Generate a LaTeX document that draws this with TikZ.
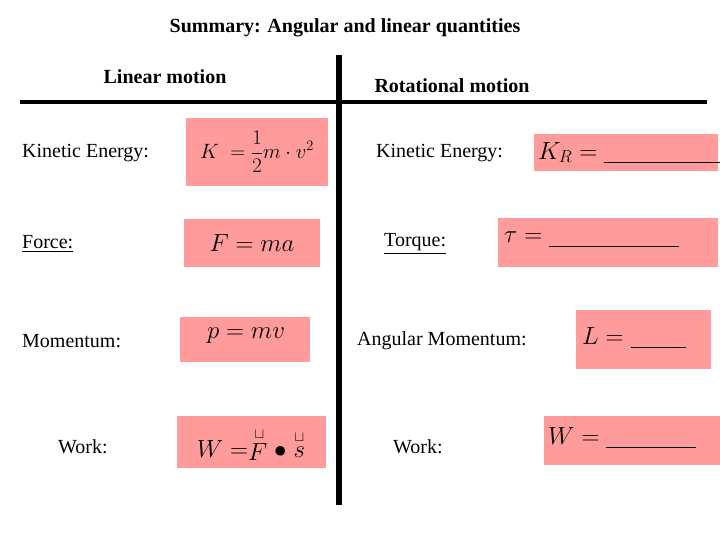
\documentclass[tikz,border=0pt]{standalone}
\usepackage{amsmath}
\usepackage{fontspec}
\setmainfont{Liberation Serif}
\begin{document}
\begin{tikzpicture}[x=1pt,y=-1pt,
  lab/.style={anchor=west,font=\fontsize{20}{22}\selectfont,inner sep=0},
  hd/.style={font=\bfseries\fontsize{20}{22}\selectfont},
  box/.style={fill=pink1,draw=none},
  fm/.style={font=\fontsize{30}{32}\selectfont,inner sep=0}]
\definecolor{pink1}{HTML}{FF9B9B}
\useasboundingbox (0,0) rectangle (720,540);
\node[hd] (t) at (345,28) {Summary: Angular and linear quantities};
\node[hd] (lm) at (165,77) {Linear motion};
\node[hd] (rm) at (452,86) {Rotational motion};
\draw[line width=4] (20,102) -- (707,102);
\draw[line width=6] (339,55) -- (339,505);
% boxes
\fill[box] (186,118) rectangle (328,186);
\fill[box] (184,219) rectangle (320,267);
\fill[box] (180,317) rectangle (310,362);
\fill[box] (177,416) rectangle (326,468);
\fill[box] (534,134) rectangle (718,171);
\fill[box] (498,218) rectangle (718,267);
\fill[box] (576,310) rectangle (711,369);
\fill[box] (544,416) rectangle (720,465);
% labels
\node[lab] (a1) at (22,153) {Kinetic Energy:};
\node[lab] (a2) at (22,244) {\underline{Force:}};
\node[lab] (a3) at (22,341) {Momentum:};
\node[lab] (a4) at (58,447) {Work:};
\node[lab] (b1) at (376,153) {Kinetic Energy:};
\node[lab] (b2) at (384,244) {\underline{Torque:}};
\node[lab] (b3) at (357,341) {Angular Momentum:};
\node[lab] (b4) at (393,447) {Work:};
% formulas
\node[inner sep=0,font=\fontsize{22}{24}\selectfont] (f1) at (257,152) {$\displaystyle K\;=\frac{1}{2}m\cdot v^{2}$};
\node[fm] (f2) at (252,243) {$F = ma$};
\node[fm] (f3) at (246,336) {$p = mv$};
\node[fm] (f4) at (251,444) {$W = \stackrel{\scriptscriptstyle\sqcup}{F}\bullet\stackrel{\scriptscriptstyle\sqcup}{s}$};
\node[inner sep=0,anchor=west,font=\fontsize{24}{26}\selectfont] (g1) at (538,153) {$K_R = \underline{\hspace{120pt}}$};
\node[inner sep=0,anchor=west,font=\fontsize{32}{34}\selectfont] (g2) at (504,240) {$\tau = \underline{\hspace{130pt}}$};
\node[inner sep=0,anchor=west,font=\fontsize{36}{38}\selectfont] (g3) at (582,338) {$L = \underline{\hspace{55pt}}$};
\node[inner sep=0,anchor=west,font=\fontsize{28}{30}\selectfont] (g4) at (548,438) {$W = \underline{\hspace{90pt}}$};
\end{tikzpicture}
\end{document}
